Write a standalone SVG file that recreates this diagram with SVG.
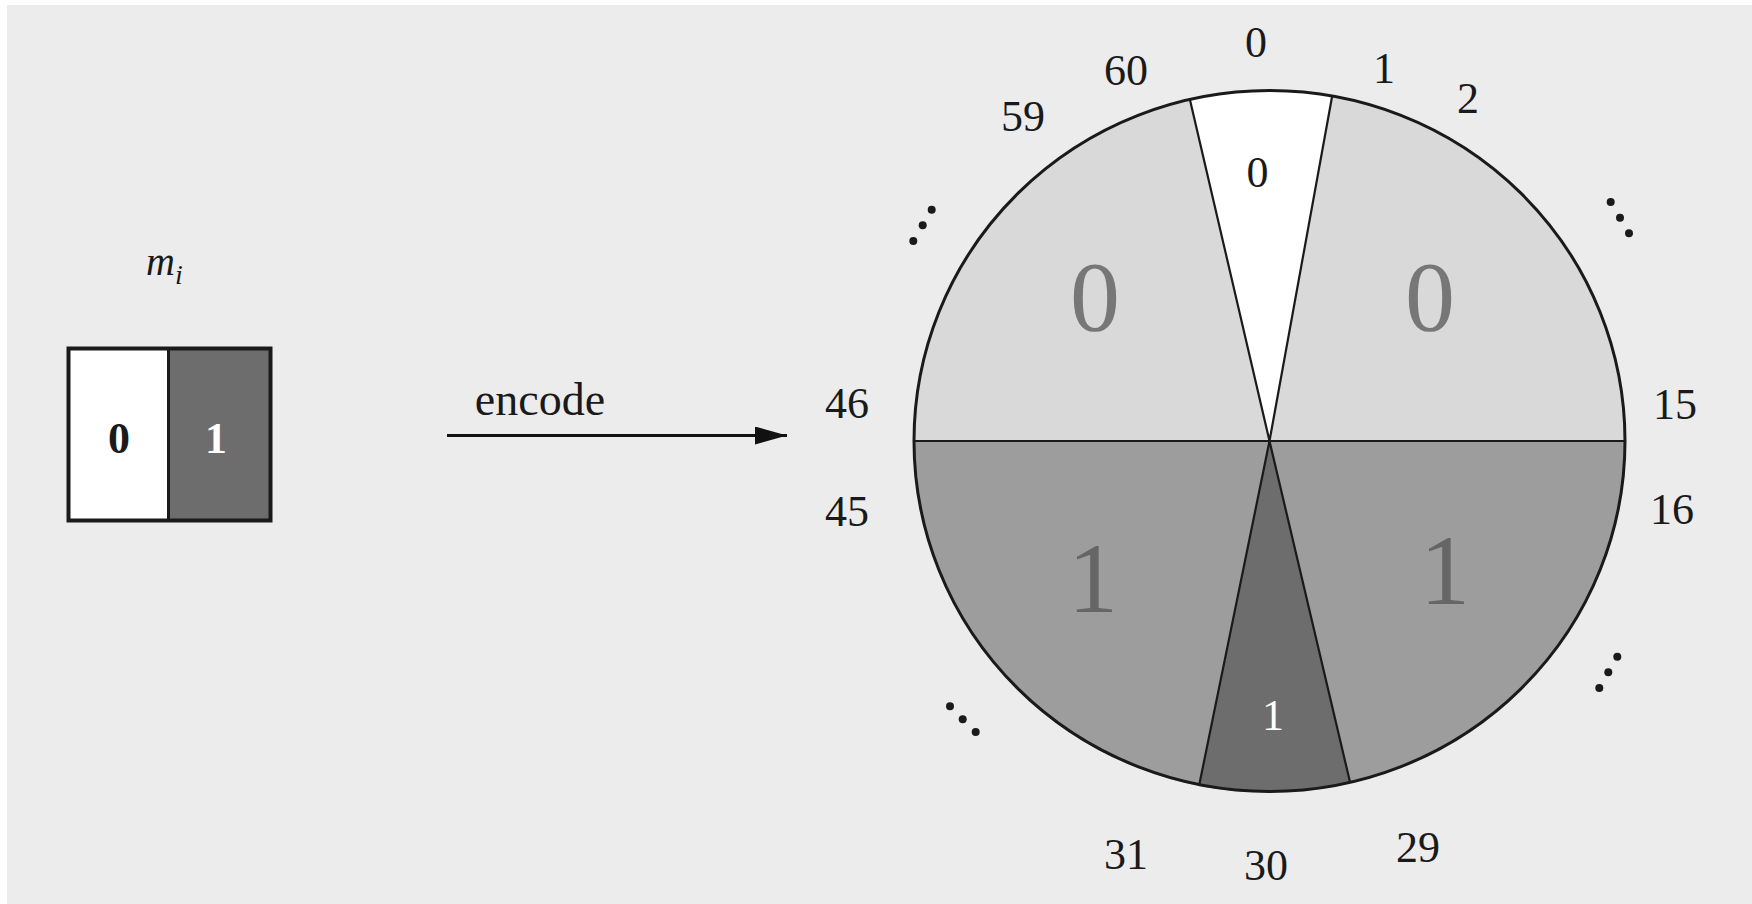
<svg xmlns="http://www.w3.org/2000/svg" width="1752" height="904" viewBox="0 0 1752 904">
<style>
.t{font-family:"Liberation Serif","Times New Roman",serif;fill:#1a1a1a;text-anchor:middle}
.lbl{font-size:44px}
.big{font-size:100px}
.div{stroke:#1a1a1a;stroke-width:2.2;fill:none}
.dot{fill:#1a1a1a}
</style>
<defs>
<marker id="ah" viewBox="0 0 32 18" refX="32" refY="9" markerWidth="32" markerHeight="18" markerUnits="userSpaceOnUse" orient="auto">
<path d="M0,0 L32,9 L0,18 Z" fill="#111"/>
</marker>
</defs>
<rect x="0" y="0" width="1752" height="904" fill="#ffffff"/>
<rect x="7" y="5" width="1745" height="899" fill="#ececec"/>

<g id="message">
<text x="146" y="275" font-family="Liberation Serif, Times New Roman, serif" font-size="40" font-style="italic" fill="#1a1a1a">m<tspan font-size="28" dy="9">i</tspan></text>
<rect x="68.5" y="348.5" width="100" height="172" fill="#ffffff"/>
<rect x="168.5" y="348.5" width="102" height="172" fill="#6d6d6d"/>
<rect x="68.5" y="348.5" width="202" height="172" fill="none" stroke="#1a1a1a" stroke-width="4"/>
<line x1="168.5" y1="348.5" x2="168.5" y2="520.5" stroke="#1a1a1a" stroke-width="3"/>
<text class="t" x="119" y="453" font-size="44" font-weight="bold">0</text>
<text class="t" x="216" y="453" font-size="44" font-weight="bold" style="fill:#ffffff">1</text>
</g>

<g id="connectors">
<line x1="447" y1="435.5" x2="787" y2="435.5" stroke="#111" stroke-width="3.2" marker-end="url(#ah)"/>
<text class="t" x="540" y="415" font-size="46">encode</text>
</g>

<g id="wheel">
<path d="M1269.5,441 L1190,100 A355.5,350.5 0 0 1 1332,97 Z" fill="#ffffff"/>
<path d="M1269.5,441 L1332,97 A355.5,350.5 0 0 1 1625,441 Z" fill="#d9d9d9"/>
<path d="M1269.5,441 L914,441 A355.5,350.5 0 0 1 1190,100 Z" fill="#d9d9d9"/>
<path d="M1269.5,441 L1625,441 A355.5,350.5 0 0 1 1350,782 Z" fill="#9d9d9d"/>
<path d="M1269.5,441 L1350,782 A355.5,350.5 0 0 1 1199,786 Z" fill="#6d6d6d"/>
<path d="M1269.5,441 L1199,786 A355.5,350.5 0 0 1 914,441 Z" fill="#9d9d9d"/>
<path class="div" d="M914,441 L1625,441 M1190,100 L1269.5,441 L1332,97 M1199,786 L1269.5,441 L1350,782"/>
<ellipse cx="1269.5" cy="441" rx="355.5" ry="350.5" fill="none" stroke="#1a1a1a" stroke-width="3"/>
<text class="t big" x="1095" y="330" style="fill:#777777">0</text>
<text class="t big" x="1430" y="330" style="fill:#777777">0</text>
<text class="t big" x="1093" y="612" style="fill:#666666">1</text>
<text class="t big" x="1445" y="604" style="fill:#666666">1</text>
<text class="t lbl" x="1257.5" y="187">0</text>
<text class="t lbl" x="1273" y="730" style="fill:#ffffff">1</text>
</g>

<g id="tick-labels">
<text class="t lbl" x="1256" y="57">0</text>
<text class="t lbl" x="1384" y="83">1</text>
<text class="t lbl" x="1468" y="113">2</text>
<text class="t lbl" x="1126" y="85">60</text>
<text class="t lbl" x="1023" y="131">59</text>
<text class="t lbl" x="847" y="418">46</text>
<text class="t lbl" x="847" y="526">45</text>
<text class="t lbl" x="1675" y="419">15</text>
<text class="t lbl" x="1672" y="524">16</text>
<text class="t lbl" x="1418" y="862">29</text>
<text class="t lbl" x="1266" y="880">30</text>
<text class="t lbl" x="1126" y="869">31</text>
</g>

<g id="ellipses">
<circle class="dot" cx="931.7" cy="209.7" r="4"/>
<circle class="dot" cx="922.7" cy="225.3" r="4"/>
<circle class="dot" cx="913.3" cy="241" r="4"/>
<circle class="dot" cx="1610.7" cy="202" r="4"/>
<circle class="dot" cx="1620" cy="217.7" r="4"/>
<circle class="dot" cx="1629" cy="233.3" r="4"/>
<circle class="dot" cx="950" cy="706.3" r="4"/>
<circle class="dot" cx="962.7" cy="719.3" r="4"/>
<circle class="dot" cx="975.7" cy="732" r="4"/>
<circle class="dot" cx="1617.3" cy="656.7" r="4"/>
<circle class="dot" cx="1608.3" cy="672.3" r="4"/>
<circle class="dot" cx="1599.3" cy="688" r="4"/>
</g>
</svg>
